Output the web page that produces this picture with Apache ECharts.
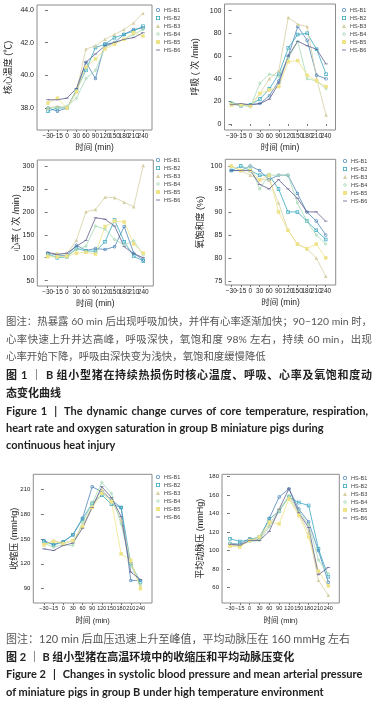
<!DOCTYPE html>
<html>
<head>
<meta charset="utf-8">
<script src="https://cdn.jsdelivr.net/npm/echarts@6/dist/echarts.min.js"></script>
<style>
html, body { margin: 0; padding: 0; background: #fff; }
#page { position: relative; width: 377px; height: 703px; overflow: hidden; }
#chart { position: absolute; left: 0; top: 0; width: 377px; height: 703px; }
.cap {
  position: absolute; left: 6px; height: 17px; line-height: 17px;
  font-family: Lato, "Noto Sans CJK SC", sans-serif; font-size: 11px; color: #555;
  white-space: nowrap;
}
.note { font-size: 10.4px; }
.just { width: 366px; white-space: normal; text-align: justify; text-align-last: justify; }
.fig { color: #222; font-weight: bold; }
.en { color: #222; font-weight: bold; font-size: 11px; }
.bar { padding: 0 7px; }
</style>
</head>
<body>
<div id="page">
  <div id="chart"></div>
  <div class="cap note just" style="top:313px">图注：热暴露 60 min 后出现呼吸加快，并伴有心率逐渐加快；90−120 min 时，</div>
  <div class="cap note just" style="top:331px">心率快速上升并达高峰，呼吸深快，氧饱和度 98% 左右，持续 60 min，出现</div>
  <div class="cap note" style="top:348px">心率开始下降，呼吸由深快变为浅快，氧饱和度缓慢降低</div>
  <div class="cap fig just" style="top:366px">图 1 ｜ B 组小型猪在持续热损伤时核心温度、呼吸、心率及氧饱和度动</div>
  <div class="cap fig" style="top:384px">态变化曲线</div>
  <div class="cap en just" style="top:402px;width:362px">Figure 1<span class="bar">|</span>The dynamic change curves of core temperature, respiration,</div>
  <div class="cap en" style="top:419px">heart rate and oxygen saturation in group B miniature pigs during</div>
  <div class="cap en" style="top:436px">continuous heat injury</div>
  <div class="cap" style="top:630px">图注：120 min 后血压迅速上升至峰值，平均动脉压在 160 mmHg 左右</div>
  <div class="cap fig" style="top:648px">图 2 ｜ B 组小型猪在高温环境中的收缩压和平均动脉压变化</div>
  <div class="cap en" style="top:665px">Figure 2<span class="bar">|</span>Changes in systolic blood pressure and mean arterial pressure</div>
  <div class="cap en" style="top:683px">of miniature pigs in group B under high temperature environment</div>
</div>
<script>
// 时间点与猪编号
const timeLabels = ['−30', '−15', '0', '30', '60', '90', '120', '150', '180', '210', '240']
const pigNames = ['HS-B1', 'HS-B2', 'HS-B3', 'HS-B4', 'HS-B5', 'HS-B6']

// 核心温度 (℃)
const tempValues = [
  [38.0, 37.8, 38.0, 39.0, 40.8, 39.8, 41.9, 42.0, 42.5, 42.8, 42.9],
  [37.8, 38.0, 38.0, 39.1, 40.3, 41.7, 41.9, 42.3, 42.5, 42.7, 43.0],
  [38.0, 38.1, 38.0, 39.0, 41.6, 41.8, 42.2, 42.5, 42.8, 43.2, 43.8],
  [38.0, 38.0, 38.1, 38.6, 39.8, 40.3, 41.7, 42.0, 42.2, 42.5, 42.8],
  [38.3, 38.6, 38.0, 39.0, 40.5, 41.0, 41.6, 41.9, 42.2, 42.6, 42.4],
  [38.5, 38.5, 38.6, 39.2, 40.8, 41.3, 41.8, 42.0, 42.2, 42.3, 42.6]
]
const tempTicks = [38, 40, 42, 44]

// 呼吸 (次/min)
const respValues = [
  [18, 17, 17, 18, 25, 38, 60, 86, 74, 43, 40],
  [18, 16, 17, 22, 31, 44, 67, 79, 80, 66, 44],
  [17, 17, 16, 27, 40, 47, 94, 88, 86, 40, 8],
  [19, 17, 15, 36, 44, 42, 58, 73, 40, 38, 31],
  [17, 17, 16, 27, 30, 33, 55, 56, 43, 38, 33],
  [17, 18, 17, 18, 22, 36, 60, 73, 69, 66, 53]
]
const respTicks = [0, 20, 40, 60, 80, 100]

// 心率 (次/min)
const hrValues = [
  [110, 106, 104, 127, 116, 120, 118, 124, 168, 110, 95],
  [108, 100, 102, 120, 115, 114, 135, 182, 135, 103, 93],
  [108, 110, 108, 138, 200, 205, 232, 231, 221, 211, 301],
  [105, 103, 104, 118, 125, 169, 162, 140, 128, 137, 106],
  [102, 102, 103, 110, 112, 108, 168, 180, 178, 130, 110],
  [112, 107, 110, 125, 138, 187, 184, 169, 124, 109, 100]
]
const hrTicks = [50, 100, 150, 200, 250, 300]

// 氧饱和度 (%)
const spo2Values = [
  [99, 99, 100, 99, 97, 98, 98, 94, 90, 88, 85],
  [99, 100, 99, 98, 98, 95, 90, 90, 88, 86, 84],
  [100, 99, 98, 97, 97, 92, 86, 83, 82, 80, 76],
  [100, 99, 100, 95, 98, 98, 98, 92, 88, 85, 83],
  [100, 99, 99, 97, 98, 90, 86, 83, 82, 83, 80],
  [99, 99, 99, 96, 95, 97, 95, 93, 90, 90, 88]
]
const spo2Ticks = [75, 80, 85, 90, 95, 100]

// 收缩压 (mmHg)
const sbpValues = [
  [148, 143, 147, 155, 175, 213, 207, 197, 188, 100, 100],
  [147, 143, 146, 155, 174, 193, 203, 192, 188, 120, 98],
  [143, 148, 145, 148, 165, 190, 210, 197, 173, 122, 93],
  [145, 140, 143, 142, 170, 193, 218, 205, 168, 118, 95],
  [143, 147, 144, 148, 165, 188, 205, 195, 132, 124, 90],
  [138, 136, 142, 145, 163, 188, 213, 200, 177, 110, 101]
]
const sbpTicks = [90, 120, 150, 180, 210]

// 平均动脉压 (mmHg)
const mapValues = [
  [108, 107, 113, 112, 135, 158, 167, 145, 131, 100, 66],
  [113, 110, 112, 115, 134, 143, 158, 152, 149, 102, 72],
  [106, 105, 111, 113, 128, 145, 158, 140, 120, 68, 52],
  [108, 106, 110, 111, 126, 142, 160, 143, 128, 90, 75],
  [105, 104, 111, 115, 131, 129, 156, 138, 115, 78, 62],
  [107, 106, 111, 111, 121, 145, 167, 141, 125, 74, 82]
]
const mapTicks = [60, 80, 100, 120, 140, 160, 180]

const colors = ['#4f86b8', '#3aa8bf', '#d6cfa2', '#a6d9b4', '#efe388', '#5f5d8f']
// 空心符号用带孔的路径画，图例里也保持细线
const symbols = [
  'path://M5,0A5,5 0 1 1 5,10A5,5 0 1 1 5,0Z M5,2A3,3 0 1 0 5,8A3,3 0 1 0 5,2Z',
  'path://M0,0H10V10H0Z M2,2V8H8V2Z',
  'triangle',
  'path://M5,0L10,5L5,10L0,5Z M5,2.6L2.6,5L5,7.4L7.4,5Z',
  'rect',
  'path://M0,0H10V2H0Z'
]

const panels = [
  { values: tempValues, ticks: tempTicks, dec: 1, yName: '核心温度 (℃)', grid: { left: 37, top: 5, width: 115, height: 125 }, x: [-1.15, 10.95], y: [36.65, 44.3], nameGap: 24, legend: [156, 7], small: false },
  { values: respValues, ticks: respTicks, dec: 0, yName: '呼吸 ( 次 /min)', grid: { left: 224.5, top: 4, width: 111, height: 126 }, x: [-0.75, 11.0], y: [-5.3, 105.9], nameGap: 24, legend: [342, 7], small: false },
  { values: hrValues, ticks: hrTicks, dec: 0, yName: '心率 ( 次 /min)', grid: { left: 37.3, top: 160, width: 116, height: 126 }, x: [-1.09, 11.05], y: [38.4, 313], nameGap: 16, legend: [156, 157], small: false },
  { values: spo2Values, ticks: spo2Ticks, dec: 0, yName: '氧饱和度 (%)', grid: { left: 225.3, top: 159.3, width: 110.4, height: 125.7 }, x: [-0.64, 11.06], y: [74.1, 101.45], nameGap: 20, legend: [343, 158], small: false },
  { values: sbpValues, ticks: sbpTicks, dec: 0, yName: '收缩压 (mmHg)', grid: { left: 33.3, top: 474.3, width: 118.7, height: 128.7 }, x: [-1.1, 11.2], y: [72.7, 228], nameGap: 14, legend: [156, 474], small: true },
  { values: mapValues, ticks: mapTicks, dec: 0, yName: '平均动脉压 (mmHg)', grid: { left: 222, top: 474.3, width: 117.3, height: 128.7 }, x: [-0.81, 11.12], y: [43.5, 182.6], nameGap: 17, legend: [343, 475], small: true }
]

// 标签很挤，拆成两根重叠的 x 轴（偶数 / 奇数位置），避免首尾标签被自动隐藏
const evenIdx = timeLabels.map((t, k) => k).filter(k => k % 2 === 0)
const oddIdx = timeLabels.map((t, k) => k).filter(k => k % 2 === 1)
const cjk = '"Liberation Sans", "Noto Sans CJK SC", sans-serif'

const grid = []
const xAxis = []
const yAxis = []
const legend = []
const series = []

const makeX = (p, i, ticks, withName) => ({
  type: 'value', gridIndex: i, position: 'bottom', min: p.x[0], max: p.x[1],
  axisLine: { show: false },
  splitLine: { show: false },
  axisTick: { show: true, length: 2, customValues: ticks, lineStyle: { color: '#777' } },
  axisLabel: {
    customValues: ticks, margin: 3, fontSize: p.small ? 5.5 : 6.5, color: '#222', fontFamily: cjk,
    formatter: v => timeLabels[Math.round(v)]
  },
  name: withName ? '时间 (min)' : '', nameLocation: 'middle', nameGap: p.small ? 14 : 13, nameMoveOverlap: false,
  nameTextStyle: { fontSize: p.small ? 7.5 : 8.5, color: '#222', fontFamily: cjk }
})

panels.forEach((p, i) => {
  grid.push({ ...p.grid, show: true, borderColor: '#8c8c8c', borderWidth: 1, backgroundColor: 'transparent' })
  xAxis.push(makeX(p, i, evenIdx, true))
  xAxis.push(makeX(p, i, oddIdx, false))
  yAxis.push({
    type: 'value', gridIndex: i, min: p.y[0], max: p.y[1],
    axisLine: { show: false },
    splitLine: { show: false },
    axisTick: { show: true, length: 3, customValues: p.ticks, lineStyle: { color: '#777' } },
    axisLabel: {
      customValues: p.ticks, margin: 3, fontSize: p.small ? 6 : 7, color: '#222', fontFamily: cjk,
      formatter: v => v.toFixed(p.dec)
    },
    name: p.yName, nameLocation: 'middle', nameGap: p.nameGap, nameMoveOverlap: false,
    nameTextStyle: { fontSize: 9, color: '#222', fontFamily: cjk }
  })
  legend.push({
    orient: 'vertical', left: p.legend[0], top: p.legend[1],
    itemWidth: 4, itemHeight: 4, itemGap: 2, padding: 0,
    textStyle: { fontSize: 5.5, color: '#444', padding: [0, 0, 0, -1] },
    data: pigNames.map((n, j) => ({ name: n, icon: symbols[j] }))
  })
  p.values.forEach((row, j) => {
    series.push({
      type: 'line', name: pigNames[j], xAxisIndex: 2 * i, yAxisIndex: i,
      data: row.map((v, k) => [k, v]),
      symbol: symbols[j], symbolSize: j === 5 ? 3.5 : 3.5, symbolKeepAspect: true,
      lineStyle: { color: colors[j], width: 0.8 },
      itemStyle: { color: colors[j] },
      emphasis: { disabled: true }
    })
  })
})

const chart = echarts.init(document.getElementById('chart'))
chart.setOption({
  animation: false,
  backgroundColor: '#fff',
  grid, xAxis, yAxis, legend, series
})
</script>
</body>
</html>
